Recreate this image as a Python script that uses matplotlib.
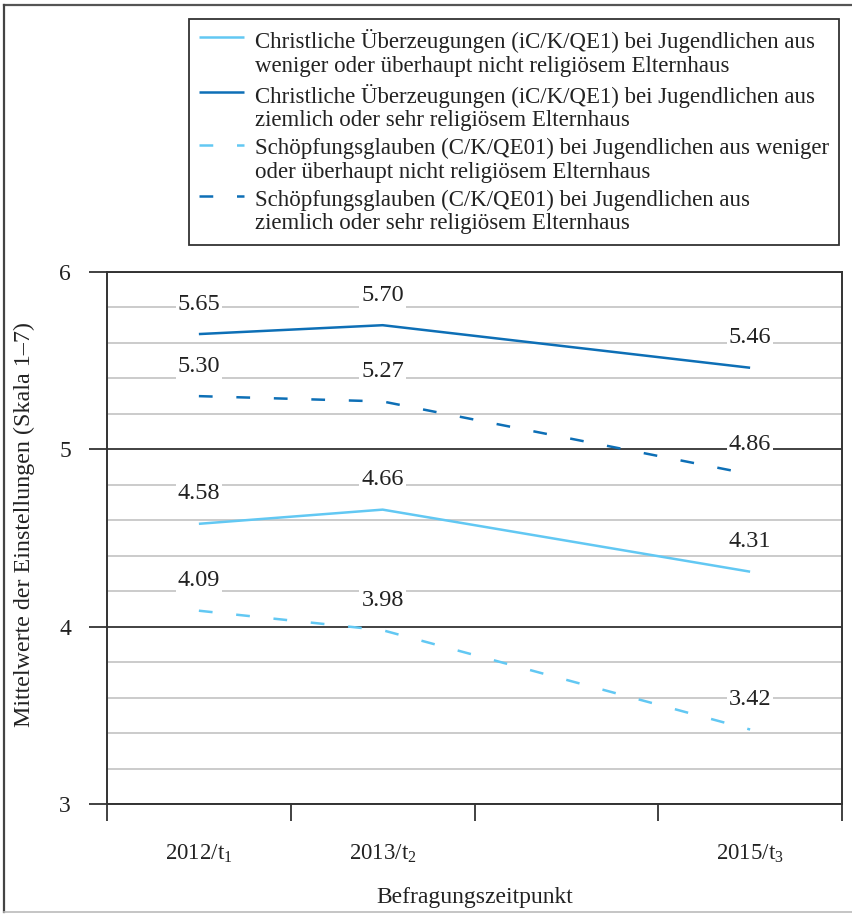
import numpy as np
import matplotlib
matplotlib.use("Agg")
import matplotlib.pyplot as plt
from matplotlib.lines import Line2D
from matplotlib.legend_handler import HandlerLine2D
from matplotlib.ticker import MultipleLocator, FixedLocator, NullFormatter

# ---------------- data ----------------
years = [2012, 2013, 2015]
year_labels = ["2012/t$_{\\mathregular{1}}$", "2013/t$_{\\mathregular{2}}$", "2015/t$_{\\mathregular{3}}$"]
christ_low = [4.58, 4.66, 4.31]
christ_high = [5.65, 5.70, 5.46]
schoepf_low = [4.09, 3.98, 3.42]
schoepf_high = [5.30, 5.27, 4.86]
legend_labels = [
    "Christliche Überzeugungen (iC/K/QE1) bei Jugendlichen aus\nweniger oder überhaupt nicht religiösem Elternhaus",
    "Christliche Überzeugungen (iC/K/QE1) bei Jugendlichen aus\nziemlich oder sehr religiösem Elternhaus",
    "Schöpfungsglauben (C/K/QE01) bei Jugendlichen aus weniger\noder überhaupt nicht religiösem Elternhaus",
    "Schöpfungsglauben (C/K/QE01) bei Jugendlichen aus\nziemlich oder sehr religiösem Elternhaus",
]
y_label = "Mittelwerte der Einstellungen (Skala 1\u20137)"
x_label = "Befragungszeitpunkt"

# ---------------- style ----------------
FONT = ["Liberation Serif", "DejaVu Serif"]
plt.rcParams["font.family"] = FONT
plt.rcParams["mathtext.fontset"] = "custom"
plt.rcParams["mathtext.rm"] = "Liberation Serif"
plt.rcParams["mathtext.it"] = "Liberation Serif:italic"
plt.rcParams["mathtext.bf"] = "Liberation Serif:bold"
FS = 16.5
LIGHT = "#62C8F3"
DARK = "#0D6FB6"
LINE_TEXT = "#222222"
W, H, DPI = 852, 915, 100

fig = plt.figure(figsize=(W / DPI, H / DPI), dpi=DPI)
ax = fig.add_axes([107 / W, 1 - 804 / H, (842 - 107) / W, (804 - 272) / H])

series = [
    (christ_low, LIGHT, "-"),
    (christ_high, DARK, "-"),
    (schoepf_low, LIGHT, (0, (5.5, 9.5))),
    (schoepf_high, DARK, (0, (5.5, 9.5))),
]
handles = []
for vals, col, ls in series:
    (ln,) = ax.plot(years, vals, color=col, lw=1.8, linestyle=ls,
                    solid_capstyle="butt", dash_capstyle="butt", zorder=3)
    handles.append(ln)
    for x, v in zip(years, vals):
        ax.annotate(f"{v:.2f}", (x, v), xytext=(0, 21.5), textcoords="offset points",
                    ha="center", va="center", fontsize=17.5, color=LINE_TEXT, zorder=4,
                    bbox=dict(boxstyle="square,pad=0.08", fc="white", ec="none"))

# axes limits & ticks
ax.set_xlim(2011.5, 2015.5)
ax.set_ylim(3, 6)
ax.xaxis.set_major_locator(FixedLocator(np.arange(2011.5, 2016, 1.0)))
ax.xaxis.set_major_formatter(NullFormatter())
ax.xaxis.set_minor_locator(FixedLocator(years))
ax.set_xticklabels(year_labels, minor=True)
ax.tick_params(axis="x", which="major", length=12, width=1.3, color="#333333", direction="out")
ax.tick_params(axis="x", which="minor", length=0, pad=28, labelsize=FS, labelcolor=LINE_TEXT)

ax.yaxis.set_major_locator(MultipleLocator(1))
ax.yaxis.set_minor_locator(MultipleLocator(0.2))
ax.tick_params(axis="y", which="major", length=13, width=1.3, color="#333333",
               pad=13, labelsize=FS + 0.5, labelcolor=LINE_TEXT)
ax.tick_params(axis="y", which="minor", length=0)
ax.grid(axis="y", which="minor", color="#bdbdbd", lw=1.1)
ax.grid(axis="y", which="major", color="#333333", lw=1.3)
ax.grid(axis="x", which="both", visible=False)
ax.set_axisbelow(True)
for side in ["left", "right", "top", "bottom"]:
    ax.spines[side].set_color("#333333")
    ax.spines[side].set_linewidth(1.4)

ax.set_ylabel(y_label, fontsize=17.3, color=LINE_TEXT)
ax.yaxis.set_label_coords((35 - 107) / (842 - 107), (804 - 525) / (804 - 272))
ax.set_xlabel(x_label, fontsize=FS + 0.5, color=LINE_TEXT)
ax.xaxis.set_label_coords(0.5, (804 - 887) / (804 - 272))


# legend with handle aligned to first text line
class FirstLineHandler(HandlerLine2D):
    def create_artists(self, legend, orig_handle, xdescent, ydescent,
                       width, height, fontsize, trans):
        arts = super().create_artists(legend, orig_handle, xdescent, ydescent,
                                      width, height, fontsize, trans)
        for a in arts:
            if isinstance(a, Line2D):
                a.set_ydata(np.asarray(a.get_ydata(), dtype=float) + 0.60 * fontsize * 1.15)
        return arts


leg = ax.legend(handles, legend_labels, loc="upper right",
                bbox_to_anchor=(839 / W, 1 - 19 / H), bbox_transform=fig.transFigure,
                borderaxespad=0, fontsize=FS, frameon=True, fancybox=False,
                edgecolor="#333333", framealpha=1, handlelength=1.95, handletextpad=0.48,
                labelspacing=0.28, borderpad=0.45,
                handler_map={Line2D: FirstLineHandler()})
leg.get_frame().set_linewidth(1.3)
for t in leg.get_texts():
    t.set_color(LINE_TEXT)
    t.set_linespacing(1.18)

# figure border
fig.add_artist(Line2D([3.5 / W, 1], [1 - 4.5 / H, 1 - 4.5 / H], transform=fig.transFigure,
                      color="#555555", lw=1.6))
fig.add_artist(Line2D([3.5 / W, 3.5 / W], [1 - 4.5 / H, 1 - 912 / H], transform=fig.transFigure,
                      color="#444444", lw=1.6))
fig.add_artist(Line2D([3.5 / W, 1], [1 - 912 / H, 1 - 912 / H], transform=fig.transFigure,
                      color="#bbbbbb", lw=1.2))

fig.savefig("out.png", dpi=DPI)
